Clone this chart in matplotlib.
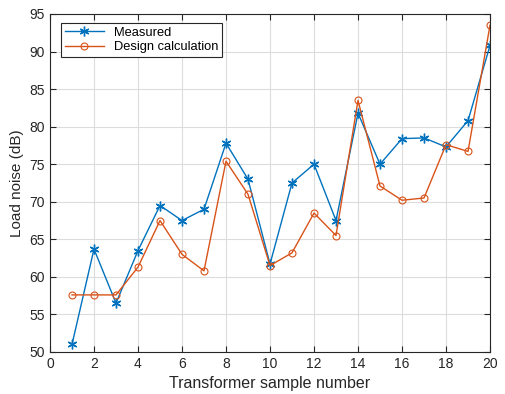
import matplotlib
matplotlib.use("Agg")
import matplotlib.pyplot as plt

plt.rcParams['font.family'] = ['Liberation Sans', 'DejaVu Sans']

samples = list(range(1, 21))
measured = [51.0, 63.7, 56.5, 63.5, 69.5, 67.5, 69.0, 77.8, 73.0, 61.7,
            72.5, 75.0, 67.5, 81.8, 75.0, 78.4, 78.5, 77.3, 80.8, 90.8]
design = [57.6, 57.6, 57.6, 61.3, 67.5, 63.0, 60.8, 75.4, 71.0, 61.5,
          63.2, 68.5, 65.5, 83.5, 72.1, 70.2, 70.5, 77.6, 76.7, 93.5]
xticks = list(range(0, 21, 2))
yticks = list(range(50, 96, 5))

fig = plt.figure(figsize=(5.06, 3.94), dpi=100)
ax = fig.add_axes([0.0988, 0.1066, 0.8696, 0.858])

ax.plot(samples, measured, color='#0072BD', marker=(6, 2, 0), markersize=7,
        markeredgewidth=1.0, linewidth=1.0, label='Measured')
ax.plot(samples, design, color='#D95319', marker='o', markersize=5,
        markerfacecolor='none', markeredgewidth=0.8, linewidth=1.0,
        label='Design calculation')

ax.set_xlim(0, 20)
ax.set_ylim(50, 95)
ax.set_xticks(xticks)
ax.set_yticks(yticks)
ax.grid(True, color='#dcdcdc', linewidth=0.8)
ax.set_axisbelow(True)
ax.tick_params(direction='in', top=True, right=True, labelsize=10,
               colors='#262626', length=4)
for s in ax.spines.values():
    s.set_color('#262626')
    s.set_linewidth(0.8)
ax.set_xlabel('Transformer sample number', fontsize=11.5, color='#262626')
ax.set_ylabel('Load noise (dB)', fontsize=11, color='#262626')

leg = ax.legend(loc='upper left', bbox_to_anchor=(0.025, 0.974),
                borderaxespad=0, fontsize=9.3, fancybox=False, framealpha=1,
                edgecolor='#262626', handlelength=3,
                borderpad=0.3, labelspacing=0.2)
leg.get_frame().set_linewidth(0.8)

fig.savefig('out.png', dpi=100)
